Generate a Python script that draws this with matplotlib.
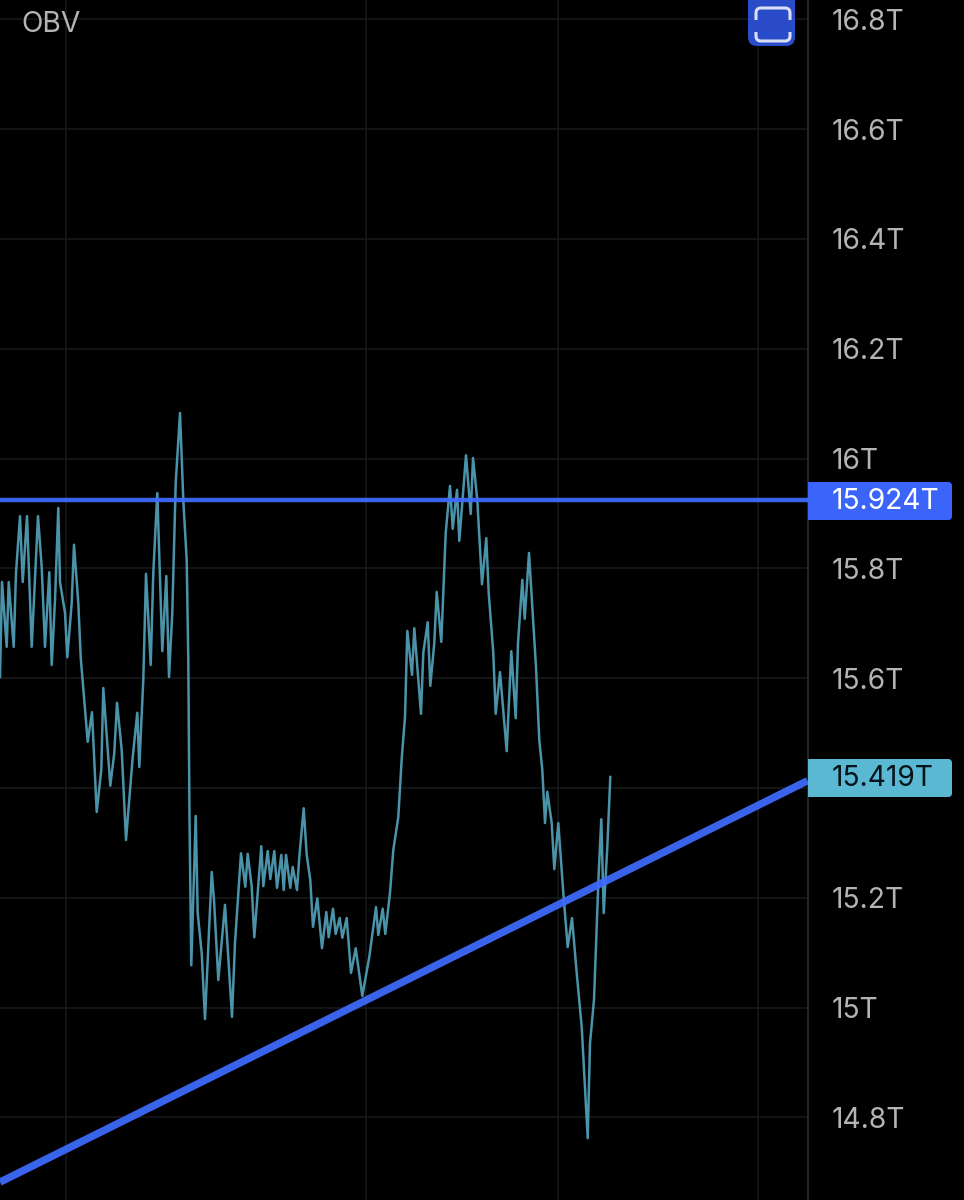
import matplotlib
matplotlib.use("Agg")
import matplotlib.pyplot as plt
from matplotlib.patches import FancyBboxPatch, PathPatch, Rectangle
from matplotlib.path import Path
from matplotlib.transforms import Affine2D

plt.rcParams['font.family'] = ['Inter', 'DejaVu Sans']

indicator_name = "OBV"
tick_values = [16.8, 16.6, 16.4, 16.2, 16.0, 15.8, 15.6, 15.4, 15.2, 15.0, 14.8]
# the 15.4T label sits behind the last-value tag in the reference
tick_labels = ["16.8T", "16.6T", "16.4T", "16.2T", "16T", "15.8T", "15.6T", "", "15.2T", "15T", "14.8T"]
time_grid = [66, 366, 558, 758]

obv_time = [
    0, 2, 6.7, 8.7, 13.7, 16, 20, 22.7, 27, 31.7, 38, 41.7, 45, 49.3, 51.7, 55, 58.3, 60, 65, 67.3,
    71.7, 74, 78.3, 80.7, 87.7, 92, 96.7, 101.3, 103.3, 110.3, 114.3, 117, 121.7, 126, 132.7, 137.3,
    139.3, 143.3, 146, 150.7, 153.3, 157.3, 162.3, 166.3, 169, 172.3, 175.7, 180, 183.3, 186.7, 188.3,
    189.5, 191.3, 195.7, 197.7, 201.7, 205, 211.7, 214, 218.3, 225, 232, 235, 241, 245.3, 247.7, 251.7,
    254.3, 261.3, 263.3, 267.7, 270.3, 274.3, 277, 281.3, 283.7, 286, 290.3, 292.7, 297, 299.3, 303.7,
    306.7, 310.3, 313, 317.3, 322, 326.3, 328.7, 333, 335.7, 339.7, 342.3, 346.7, 351, 355.7, 362.3,
    369.3, 376, 378.3, 382.7, 385.3, 390, 393.3, 398.3, 401.7, 405, 407.3, 412, 414.3, 421, 423.3,
    427.7, 430.3, 434.3, 436.7, 441.3, 445.7, 450, 452.7, 457, 459.3, 463.3, 466, 470.7, 473, 477.3,
    482, 486.3, 488.7, 493.3, 495.7, 500, 506.7, 511.3, 515.7, 518, 522.3, 524.7, 529, 536, 539.3,
    542.3, 545, 547.3, 551.7, 554.3, 558.3, 563.3, 567.7, 572, 576.7, 581.7, 587.7, 590, 594, 598.7,
    601.3, 603.7, 607.3, 610.3,
]
obv_t = [
    15.602, 15.775, 15.657, 15.775, 15.657, 15.792, 15.895, 15.775, 15.895, 15.657, 15.895, 15.802,
    15.657, 15.793, 15.624, 15.742, 15.910, 15.775, 15.719, 15.638, 15.737, 15.843, 15.737, 15.638,
    15.484, 15.538, 15.356, 15.433, 15.582, 15.404, 15.464, 15.555, 15.469, 15.305, 15.456, 15.537,
    15.438, 15.597, 15.790, 15.624, 15.792, 15.937, 15.649, 15.786, 15.602, 15.719, 15.955, 16.083,
    15.924, 15.815, 15.633, 15.342, 15.077, 15.349, 15.172, 15.099, 14.979, 15.247, 15.196, 15.050,
    15.187, 14.983, 15.118, 15.281, 15.220, 15.280, 15.220, 15.128, 15.294, 15.221, 15.285, 15.234,
    15.285, 15.218, 15.278, 15.214, 15.278, 15.218, 15.256, 15.214, 15.274, 15.363, 15.278, 15.232,
    15.147, 15.199, 15.108, 15.174, 15.128, 15.180, 15.134, 15.163, 15.127, 15.163, 15.063, 15.108,
    15.021, 15.092, 15.183, 15.132, 15.180, 15.134, 15.209, 15.287, 15.347, 15.453, 15.529, 15.686,
    15.606, 15.691, 15.535, 15.646, 15.702, 15.586, 15.664, 15.757, 15.666, 15.864, 15.950, 15.872,
    15.943, 15.850, 15.943, 16.006, 15.899, 16.001, 15.924, 15.771, 15.855, 15.755, 15.646, 15.535,
    15.611, 15.467, 15.649, 15.527, 15.664, 15.779, 15.708, 15.828, 15.620, 15.487, 15.433, 15.336,
    15.393, 15.336, 15.252, 15.336, 15.209, 15.110, 15.163, 15.063, 14.965, 14.762, 14.935, 15.014,
    15.245, 15.343, 15.172, 15.292, 15.420,
]
level_value = 15.924
level_label = "15.924T"
last_value = 15.419
last_label = "15.419T"
trend_time = [0, 807.5]
trend_values = [14.682, 15.413]

W, H = 964, 1200
fig = plt.figure(figsize=(W / 100, H / 100), dpi=100, facecolor="black")
ax = fig.add_axes([0, 0, 807.5 / W, 1], facecolor="black")
ax.set_xlim(0, 807.5)
ax.set_ylim(14.6494, 16.8352)

GRID = "#16171a"
FONT = 20.3
ax.set_yticks(tick_values)
ax.set_yticklabels(tick_labels)
ax.set_xticks(time_grid)
ax.set_xticklabels([])
ax.yaxis.tick_right()
ax.tick_params(axis="both", length=0)
ax.tick_params(axis="y", pad=17.5, labelsize=FONT, labelcolor="#b4b4b6")
ax.grid(True, color=GRID, linewidth=1.2)
ax.set_axisbelow(True)
for side in ["top", "left", "bottom"]:
    ax.spines[side].set_visible(False)
ax.spines["right"].set_color("#26272b")
ax.spines["right"].set_linewidth(1.4)

ax.plot(obv_time, obv_t, color="#4a93a8", linewidth=1.8, zorder=3, solid_joinstyle="round")
ax.axhline(level_value, color="#3f6bff", linewidth=3.2, zorder=4, alpha=0.93)
ax.plot(trend_time, trend_values, color="#3f6bff", linewidth=5.4, zorder=4, alpha=0.93,
        solid_capstyle="butt")

fig.text(21 / W, 1 - 25 / H, indicator_name, color="#b4b4b6", fontsize=FONT, ha="left", va="center")

# pixel transform with origin at the top-left of the image
px = Affine2D().scale(1, -1).translate(0, H)


def value_tag(y0, y1, colour, text, text_colour):
    fig.add_artist(FancyBboxPatch((811, y0 + 3), 138, y1 - y0 - 6,
                                  boxstyle="round,pad=3,rounding_size=4", transform=px,
                                  facecolor=colour, edgecolor="none"))
    fig.add_artist(Rectangle((807.5, y0), 10, y1 - y0, transform=px, facecolor=colour, edgecolor="none"))
    fig.text(832 / W, 1 - ((y0 + y1) / 2 + 0.5) / H, text, color=text_colour, fontsize=FONT,
             ha="left", va="center")


value_tag(482, 520, "#3b64fb", level_label, "#ffffff")
value_tag(759, 797, "#5bb8d3", last_label, "#06141a")

# expand button
fig.add_artist(FancyBboxPatch((753, -5), 37, 46, boxstyle="round,pad=5,rounding_size=9", transform=px,
                              facecolor="#2a4cc8", edgecolor="none"))
C3 = Path.CURVE3
L2 = Path.LINETO
M = Path.MOVETO
top = Path([(756, 20), (756, 13), (756, 8), (761, 8), (785, 8), (790, 8), (790, 13), (790, 20)],
           [M, L2, C3, C3, L2, C3, C3, L2])
bottom = Path([(756, 32), (756, 36), (756, 41), (761, 41), (785, 41), (790, 41), (790, 36), (790, 32)],
              [M, L2, C3, C3, L2, C3, C3, L2])
for p in (top, bottom):
    fig.add_artist(PathPatch(p, transform=px, facecolor="none", edgecolor="#d9dff5", linewidth=2.2,
                             capstyle="butt"))

fig.savefig("out.png", dpi=100, facecolor="black")
